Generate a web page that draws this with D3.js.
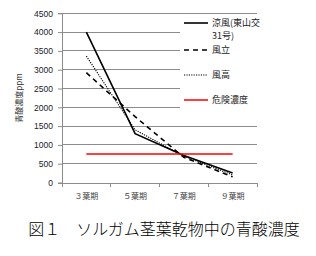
<!DOCTYPE html>
<html><head><meta charset="utf-8">
<script src="https://cdn.jsdelivr.net/npm/d3@7"></script>
<style>body{margin:0;background:#fff}svg{display:block}</style>
</head><body><svg id="c" width="316" height="256"></svg>
<script>
const categories = ["３葉期","５葉期","７葉期","９葉期"];
const ryofu = [4000, 1300, 720, 250];
const kazetachi = [2920, 1750, 670, 150];
const kazetaka = [3360, 1400, 700, 200];
const danger = [760, 760, 760, 760];
const yTicks = [0,500,1000,1500,2000,2500,3000,3500,4000,4500];
const seriesNames = ["涼風(東山交", "風立", "風高", "危険濃度"];

const svg = d3.select("#c");
const L = 62, R = 257, T = 13.3, B = 182.5;
const x = d3.scaleBand().domain(categories).range([L, R]);
const y = d3.scaleLinear().domain([0, 4500]).range([B, T]);
const fontUI = "Arial, 'Liberation Sans', 'Noto Sans CJK JP', sans-serif";

// gridlines
svg.append("g").selectAll("line").data(yTicks.filter(d => d > 0)).join("line")
  .attr("x1", L).attr("x2", R).attr("y1", d => y(d)).attr("y2", d => y(d))
  .attr("stroke", "#8c8c8c").attr("stroke-width", 1).attr("shape-rendering","crispEdges");

// y axis
const ya = svg.append("g").attr("transform", `translate(${L},0)`)
  .call(d3.axisLeft(y).tickValues(yTicks).tickFormat(d3.format("d")).tickSize(4).tickPadding(5));
ya.select(".domain").attr("stroke", "#8c8c8c").attr("shape-rendering","crispEdges");
ya.selectAll(".tick line").attr("stroke", "#8c8c8c");
ya.selectAll("text").attr("font-family", fontUI).attr("font-size", 8.5).attr("fill", "#1a1a2a");

// x axis
const xa = svg.append("g").attr("transform", `translate(0,${B})`)
  .call(d3.axisBottom(x).tickSize(0).tickPadding(11));
xa.select(".domain").attr("stroke", "#8c8c8c").attr("shape-rendering","crispEdges");
xa.selectAll("text").attr("font-family", "'Noto Sans CJK JP', sans-serif").attr("font-size", 8).attr("fill", "#444");
const bounds = categories.map(c => x(c)).concat([R]);
svg.append("g").selectAll("line").data(bounds).join("line")
  .attr("x1", d => d).attr("x2", d => d).attr("y1", B).attr("y2", B + 4)
  .attr("stroke", "#8c8c8c").attr("shape-rendering","crispEdges");

// y label
svg.append("text").attr("transform", "translate(22,98) rotate(-90)")
  .attr("text-anchor", "middle").attr("font-family", "'Noto Sans CJK JP', sans-serif")
  .attr("font-size", 8).attr("fill", "#333").text("青酸濃度ppm");

// legend background
svg.append("rect").attr("x", 180).attr("y", 16).attr("width", 80).attr("height", 100).attr("fill", "#fff");

const cx = c => x(c) + x.bandwidth() / 2;
const line = d3.line().x((d, i) => cx(categories[i])).y(d => y(d));
const styles = [
  {data: ryofu, stroke: "#000", w: 1.6, dash: null},
  {data: kazetachi, stroke: "#000", w: 1.6, dash: "5,4"},
  {data: kazetaka, stroke: "#000", w: 1.1, dash: "1.2,1.2"},
  {data: danger, stroke: "#ff0000", w: 1.5, dash: null}
];
styles.forEach(s => {
  svg.append("path").datum(s.data).attr("d", line).attr("fill", "none")
    .attr("stroke", s.stroke).attr("stroke-width", s.w).attr("stroke-dasharray", s.dash);
});

// legend
const legY = [23, 50, 75, 100];
styles.forEach((s, i) => {
  svg.append("line").attr("x1", 184).attr("x2", 208).attr("y1", legY[i]).attr("y2", legY[i])
    .attr("stroke", s.stroke).attr("stroke-width", s.w).attr("stroke-dasharray", s.dash);
  svg.append("text").attr("x", 212).attr("y", legY[i] + 3.3).attr("font-family", "'Noto Sans CJK JP', sans-serif")
    .attr("font-size", 9).attr("fill", "#222").text(seriesNames[i]);
});
svg.append("text").attr("x", 212).attr("y", 39.3).attr("font-family", "'Noto Sans CJK JP', sans-serif")
  .attr("font-size", 9).attr("fill", "#222").text("31号)");

// caption
svg.append("text").attr("x", 164).attr("y", 235).attr("text-anchor", "middle")
  .attr("font-family", "'Noto Sans CJK JP', sans-serif").attr("font-weight", 300)
  .attr("font-size", 16).attr("fill", "#000").text("図１　ソルガム茎葉乾物中の青酸濃度");
</script></body></html>
